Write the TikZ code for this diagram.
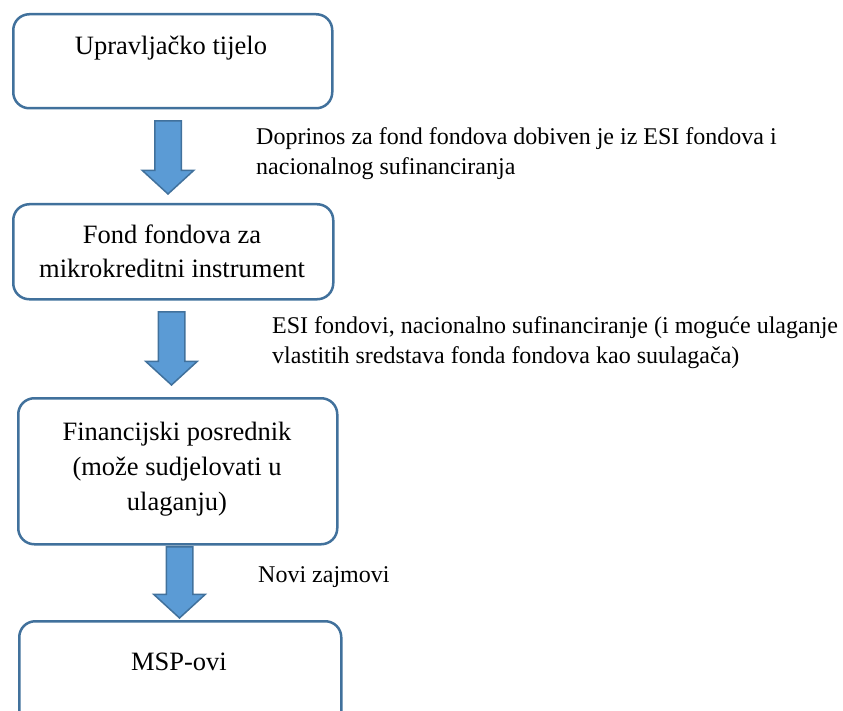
\documentclass[tikz,border=0pt]{standalone}
\usepackage{fontspec}
\setmainfont{Liberation Serif}
\usetikzlibrary{shapes.arrows}
\definecolor{boxline}{HTML}{41719C}
\definecolor{arrowfill}{HTML}{5B9BD5}
\begin{document}
\begin{tikzpicture}[x=1pt,y=-1pt,
  stage/.style={draw=boxline, line width=2.5pt, rounded corners=16pt,
    fill=white, anchor=north west, inner sep=0pt},
  stagetext/.style={font=\fontsize{26.5}{35}\selectfont, align=center,
    anchor=base, inner sep=0pt},
  flow/.style={single arrow, draw=boxline, fill=arrowfill, line width=1.5pt,
    shape border rotate=270, inner sep=12.5pt, minimum width=50pt,
    single arrow head extend=12.5pt, single arrow tip angle=95, anchor=tip},
  note/.style={font=\fontsize{24}{30}\selectfont, align=left,
    anchor=base west, inner sep=0pt}]
\useasboundingbox (0,0) rectangle (843,711);
\clip (0,0) rectangle (843,711);

% boxes of the chain
\node[stage, minimum width=319pt, minimum height=94pt] (gov) at (12,13) {};
\node[stage, minimum width=320pt, minimum height=95pt] (fof) at (12,203) {};
\node[stage, minimum width=319pt, minimum height=146pt] (fi) at (17,397) {};
\node[stage, minimum width=322pt, minimum height=130pt] (sme) at (18,620) {};

% texts inside the boxes (anchored at the baseline of the last line)
\node[stagetext] (govtext) at (171,55) {Upravljačko tijelo};
\node[stagetext] (foftext) at (172,278) {Fond fondova za\\mikrokreditni instrument};
\node[stagetext] (fitext) at (177,510) {Financijski posrednik\\(može sudjelovati u\\ulaganju)};
\node[stagetext] (smetext) at (179,670) {MSP-ovi};

% block arrows between the boxes, placed by their tips
\node[flow, minimum height=73pt] (a1) at (168,195) {};
\node[flow, minimum height=73pt] (a2) at (171.5,386) {};
\node[flow, minimum height=71pt] (a3) at (179.5,619) {};

% arrow notes
\node[note] (n1) at (256,175) {Doprinos za fond fondova dobiven je iz ESI fondova i\\nacionalnog sufinanciranja};
\node[note] (n2) at (272,363) {ESI fondovi, nacionalno sufinanciranje (i moguće ulaganje\\vlastitih sredstava fonda fondova kao suulagača)};
\node[note] (n3) at (258,582) {Novi zajmovi};
\end{tikzpicture}
\end{document}
